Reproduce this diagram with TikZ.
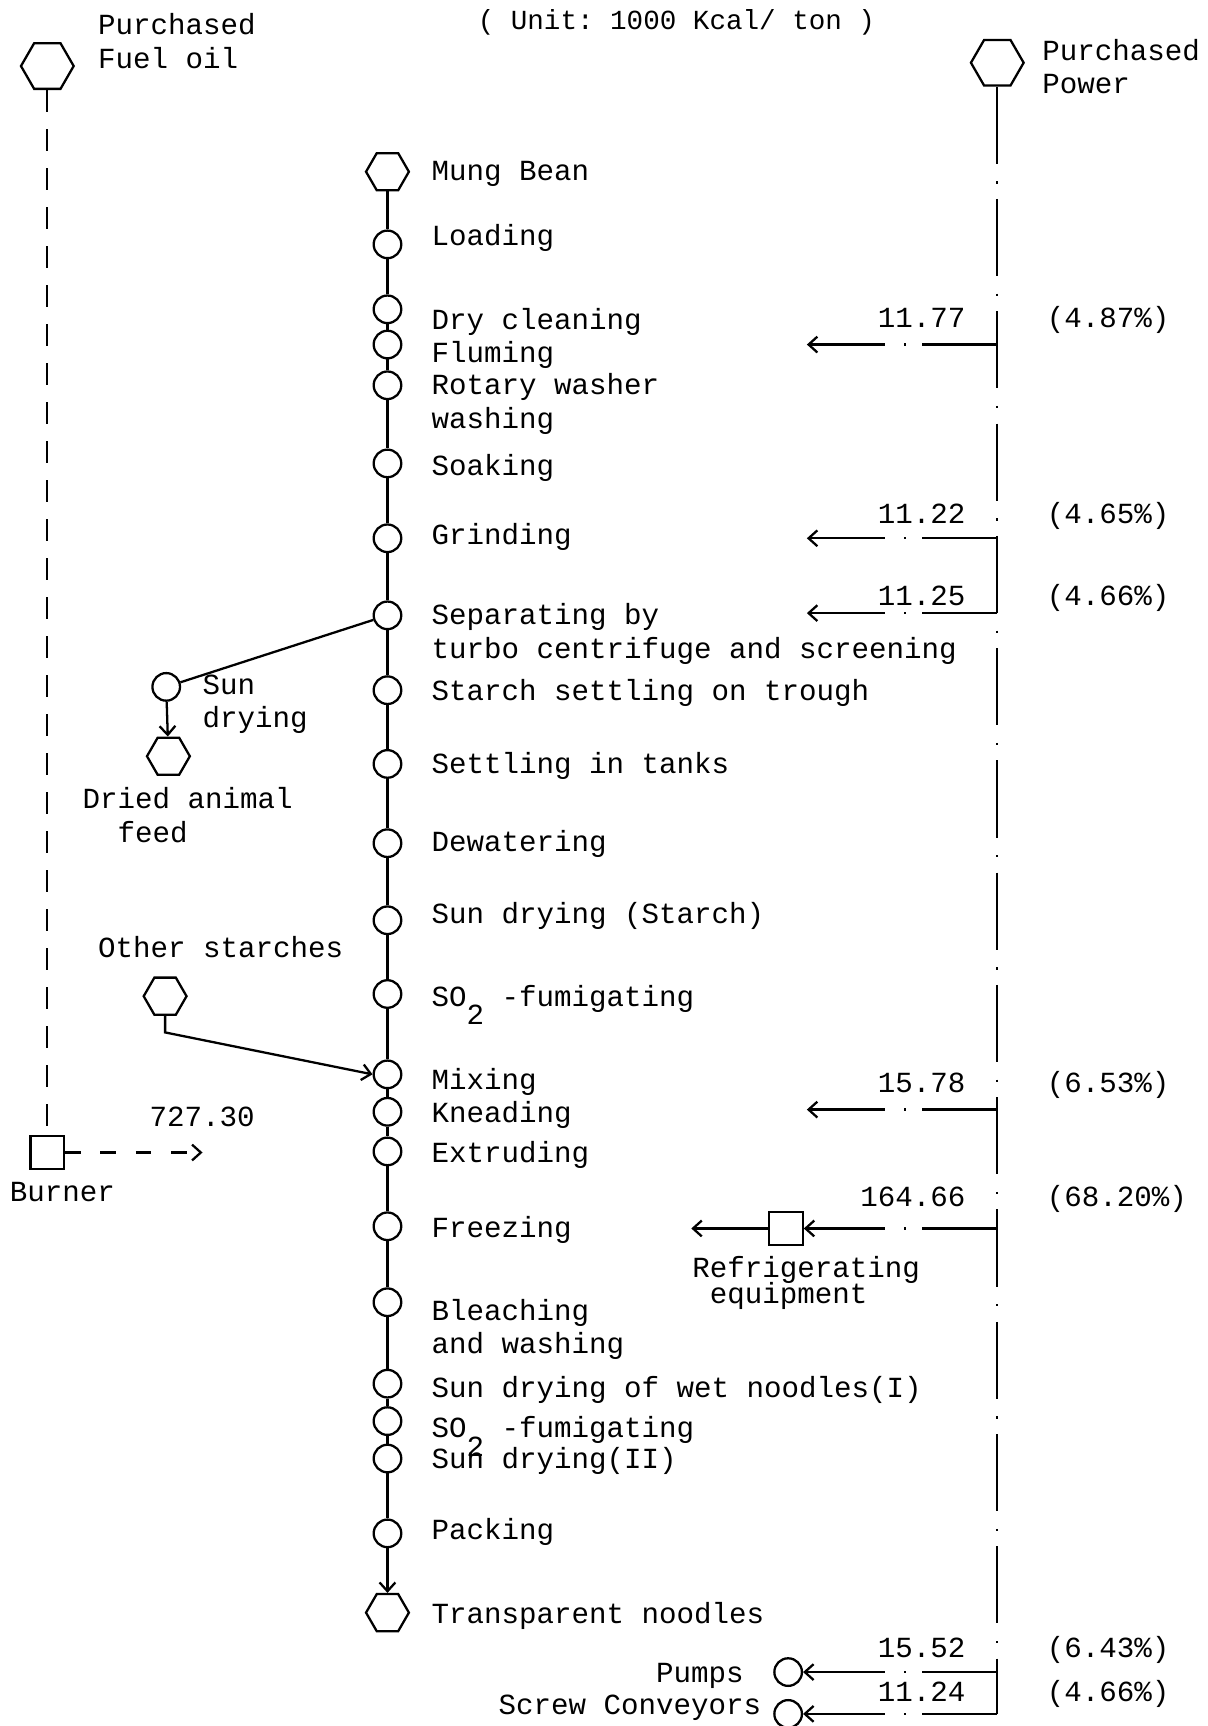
\documentclass[tikz,border=0pt]{standalone}
\usepackage{fontspec}
\setmonofont{Liberation Mono}
\usetikzlibrary{shapes.geometric,arrows.meta}
\tikzset{
  >={Straight Barb[length=5pt,width=9pt]},
}
\tikzstyle{every node}=[font=\fontsize{16.6}{19}\selectfont\ttfamily]
\tikzstyle{txt}=[inner sep=0pt,anchor=base west,align=left,yshift=-1.2pt]
\tikzstyle{num}=[inner sep=0pt,anchor=base east,yshift=-1.2pt]
\tikzstyle{proc}=[circle,draw,minimum size=15.7pt,inner sep=0pt]
\tikzstyle{store}=[regular polygon,regular polygon sides=6,draw,minimum size=24.4pt,inner sep=0pt]
\tikzstyle{bigstore}=[store,minimum size=30pt]
\tikzstyle{plant}=[rectangle,draw,minimum size=19pt,inner sep=0pt]
\tikzstyle{power}=[dash pattern=on 43.9pt off 10pt on 1.3pt off 8.7pt]
\tikzstyle{tap}=[->,dash pattern=on 42.6pt off 9.4pt on 1.3pt off 10.7pt on 300pt]
\tikzstyle{oil}=[dash pattern=on 12.5pt off 9.7pt]
\tikzstyle{heat}=[->,dash pattern=on 8.8pt off 11.3pt]
\newcommand{\sotwo}{SO\raisebox{-1.2ex}{2}}

\begin{document}
\begin{tikzpicture}[x=0.022024cm,y=-0.022024cm,line width=1.3pt]
  \useasboundingbox (0,0) rectangle (1097,1568);

  \node[bigstore] (oil) at (43,60) {};
  \node[txt] (oil-t) at (88,60) {Purchased\\Fuel oil};
  \node[txt,font=\fontsize{15.7}{19}\selectfont\ttfamily] (unit) at (433,25) {( Unit: 1000 Kcal/ ton )};
  \node[bigstore] (pow) at (906,57) {};
  \node[txt] (pow-t) at (946,83) {Purchased\\Power};

  \node[store] (bean) at (352,156) {};
  \node[txt] (bean-t) at (391,162) {Mung Bean};
  \foreach \nm/\yc/\yb/\lab in {
    load/222/221/Loading,
    dry/281/297/Dry cleaning,
    flum/313/327/Fluming,
    rot/350/387/{Rotary washer\\washing},
    soak/421/430/Soaking,
    grind/489/493/Grinding,
    sep/559/596/{Separating by\\turbo centrifuge and screening},
    trough/627/634/Starch settling on trough,
    tank/694/701/Settling in tanks,
    dewat/766/772/Dewatering,
    sdry/836/837/Sun drying (Starch),
    fum/903/912/{\sotwo{} -fumigating},
    mix/976/988/Mixing,
    knead/1010/1018/Kneading,
    extr/1046/1054/Extruding,
    frz/1114/1122/Freezing,
    blch/1183/1228/{Bleaching\\and washing},
    wet/1257/1268/Sun drying of wet noodles(I),
    fumb/1291/1304/{\sotwo{} -fumigating},
    dryb/1325/1332/Sun drying(II),
    pack/1393/1397/Packing}
  {
    \node[proc] (\nm) at (352,\yc) {};
    \node[txt] (\nm-t) at (391,\yb) {\lab};
  }
  \node[store] (noodle) at (352,1465) {};
  \node[txt] (noodle-t) at (391,1473) {Transparent noodles};

  \foreach \a/\b in {bean/load,load/dry,dry/flum,flum/rot,rot/soak,soak/grind,
    grind/sep,sep/trough,trough/tank,tank/dewat,dewat/sdry,sdry/fum,fum/mix,
    mix/knead,knead/extr,extr/frz,frz/blch,blch/wet,wet/fumb,fumb/dryb,dryb/pack}
    \draw (\a) -- (\b);
  \draw[->] (pack) -- (noodle);

  \node[proc] (sun) at (151,624) {};
  \node[txt] (sun-t) at (183,659) {Sun\\drying};
  \node[store] (feed) at (153,687) {};
  \node[txt] (feed-t) at (74,763) {Dried animal\\\phantom{Dr}feed};
  \draw (sep) -- (sun);
  \draw[->] (sun) -- (feed);

  \node[txt] (other-t) at (88,868) {Other starches};
  \node[store] (other) at (150,905) {};
  \draw[->] (other.south) -- ++(0,15) -- (mix.west);

  \node[plant] (burn) at (43,1047) {};
  \node[txt] (burn-t) at (8,1090) {Burner};
  \coordinate (hot) at (184,1047);
  \draw[oil] (oil) -- (burn);
  \draw[heat] (burn) -- (hot);
  \node[txt] (hot-t) at (135,1021) {727.30};

  \coordinate (pend) at (906,1557);
  \draw[power] (pow) -- (pend);

  \foreach \nm/\yy/\yb/\v/\p in {a/313/296/11.77/4.87,b/489/474/11.22/4.65,
    c/557/548/11.25/4.66,d/1008/991/15.78/6.53}
  {
    \coordinate (\nm0) at (906,\yy);
    \coordinate (\nm1) at (733,\yy);
    \draw[tap] (\nm0) -- (\nm1);
    \node[num] (\nm-v) at (878,\yb) {\v};
    \node[txt] (\nm-p) at (950,\yb) {(\p\%)};
  }

  \node[plant] (frig) at (714,1116) {};
  \node[txt] (frig-t) at (628,1182) {Refrigerating\\[-4.6pt]\ equipment};
  \coordinate (e0) at (906,1116);
  \coordinate (cold) at (628,1116);
  \draw[tap] (e0) -- (frig);
  \draw[->] (frig) -- (cold);
  \node[num] (e-v) at (878,1094) {164.66};
  \node[txt] (e-p) at (950,1094) {(68.20\%)};

  \node[proc] (pump) at (716,1519) {};
  \node[txt] (pump-t) at (595,1527) {Pumps};
  \coordinate (f0) at (906,1519);
  \draw[tap] (f0) -- (pump);
  \node[num] (f-v) at (878,1504) {15.52};
  \node[txt] (f-p) at (950,1504) {(6.43\%)};

  \node[proc] (screw) at (716,1557) {};
  \node[txt] (screw-t) at (452,1556) {Screw Conveyors};
  \draw[tap] (pend) -- (screw);
  \node[num] (g-v) at (878,1544) {11.24};
  \node[txt] (g-p) at (950,1544) {(4.66\%)};
\end{tikzpicture}
\end{document}
